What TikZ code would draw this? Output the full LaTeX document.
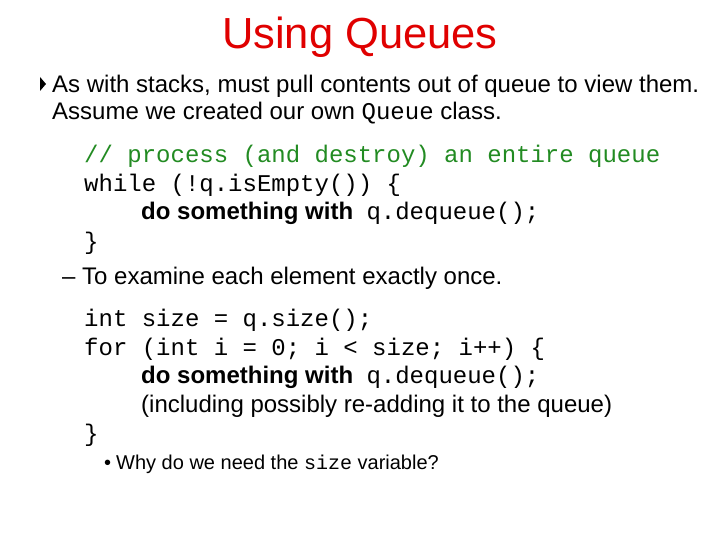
\documentclass[tikz,border=0pt]{standalone}
\usepackage{fontspec}
\setmainfont{Liberation Sans}
\setmonofont{Liberation Mono}
\definecolor{cmt}{HTML}{228B22}
\definecolor{ttl}{HTML}{E00000}
\begin{document}
\begin{tikzpicture}[x=1pt,y=-1pt,
  txt/.style={anchor=base west,inner sep=0pt,font=\fontsize{24}{26}\selectfont},
  code/.style={anchor=base west,inner sep=0pt,font=\fontsize{24}{26}\selectfont\ttfamily},
  small/.style={anchor=base west,inner sep=0pt,font=\fontsize{20}{22}\selectfont}]
\useasboundingbox[fill=white] (0,0) rectangle (720,540);
\node[anchor=base,inner sep=0pt,text=ttl,font=\fontsize{43.5}{46}\selectfont] (title) at (360,49) {Using Queues};
\fill (40,77) -- (40,91) -- (46,84) -- cycle;
\node[txt] (l1) at (52,93) {As with stacks, must pull contents out of queue to view them.};
\node[txt] (l2) at (52,120) {Assume we created our own \texttt{\fontsize{24}{24}\selectfont Queue} class.};
\node[code,text=cmt] (c1) at (84,163) {// process (and destroy) an entire queue};
\node[code] (c2) at (84,192) {while (!q.isEmpty()) \{};
\node[code] (c3) at (141,220) {\rmfamily\bfseries do something with\ \ \ttfamily\mdseries q.dequeue();};
\node[code] (c4) at (84,249) {\}};
\node[txt] (l3) at (62,284) {– To examine each element exactly once.};
\node[code] (d1) at (84,326) {int size = q.size();};
\node[code] (d2) at (84,355) {for (int i = 0; i < size; i++) \{};
\node[code] (d3) at (141,383) {\rmfamily\bfseries do something with\ \ \ttfamily\mdseries q.dequeue();};
\node[txt] (d4) at (141,412) {(including possibly re-adding it to the queue)};
\node[code] (d5) at (84,441) {\}};
\node[small] (b) at (104,469) {•\hspace{5pt}Why do we need the \texttt{size} variable?};
\end{tikzpicture}
\end{document}
